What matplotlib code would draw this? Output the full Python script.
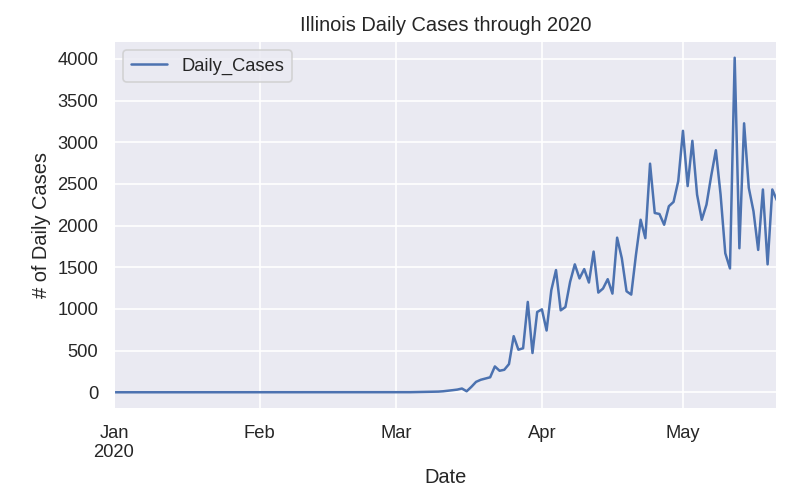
import matplotlib
matplotlib.use('Agg')
import matplotlib.pyplot as plt
import pandas as pd
import seaborn as sns

# daily new cases
jan_cases = [0, 0, 0, 0, 0, 0, 0, 0, 0, 0, 0, 0, 0, 0, 0, 0,
             0, 0, 0, 0, 0, 0, 0, 0, 0, 0, 0, 0, 0, 0, 0]
feb_cases = [0, 0, 0, 0, 0, 0, 0, 0, 0, 0, 0, 0, 0, 0, 0,
             0, 0, 0, 0, 0, 0, 0, 0, 0, 0, 0, 0, 0, 0]
mar_cases = [0, 0, 1, 1, 2, 2, 3, 5, 6, 8, 12, 18, 25, 32, 45, 12,
             65, 125, 150, 165, 180, 310, 258, 270, 338, 673, 511, 528, 1084, 471, 963]
apr_cases = [995, 741, 1224, 1466, 983, 1023, 1325, 1535, 1366, 1478,
             1317, 1688, 1196, 1245, 1357, 1184, 1855, 1607, 1212, 1172,
             1647, 2070, 1849, 2743, 2151, 2139, 2010, 2232, 2284, 2534]
may_cases = [3137, 2474, 3017, 2372, 2070, 2251, 2594, 2904, 2372, 1668,
             1486, 4014, 1728, 3227, 2453, 2172, 1708, 2433, 1535, 2433, 2300]

sns.set_theme(style='darkgrid')
plt.rcParams['font.family'] = ['Liberation Sans', 'DejaVu Sans']

dates = pd.date_range('2020-01-01', '2020-05-21', freq='D')
df = pd.DataFrame({'Daily_Cases': jan_cases + feb_cases + mar_cases + apr_cases + may_cases},
                  index=dates)
df.index.name = 'Date'

fig, ax = plt.subplots(figsize=(6.7, 502 / 120), dpi=120)
fig.subplots_adjust(left=114 / 804, right=777 / 804, top=1 - 41 / 502, bottom=1 - 409 / 502)

df.plot(ax=ax)
ax.set_title('Illinois Daily Cases through 2020')
ax.set_ylabel('# of Daily Cases')
ax.legend(loc='upper left')

fig.savefig('out.png', dpi=120)
